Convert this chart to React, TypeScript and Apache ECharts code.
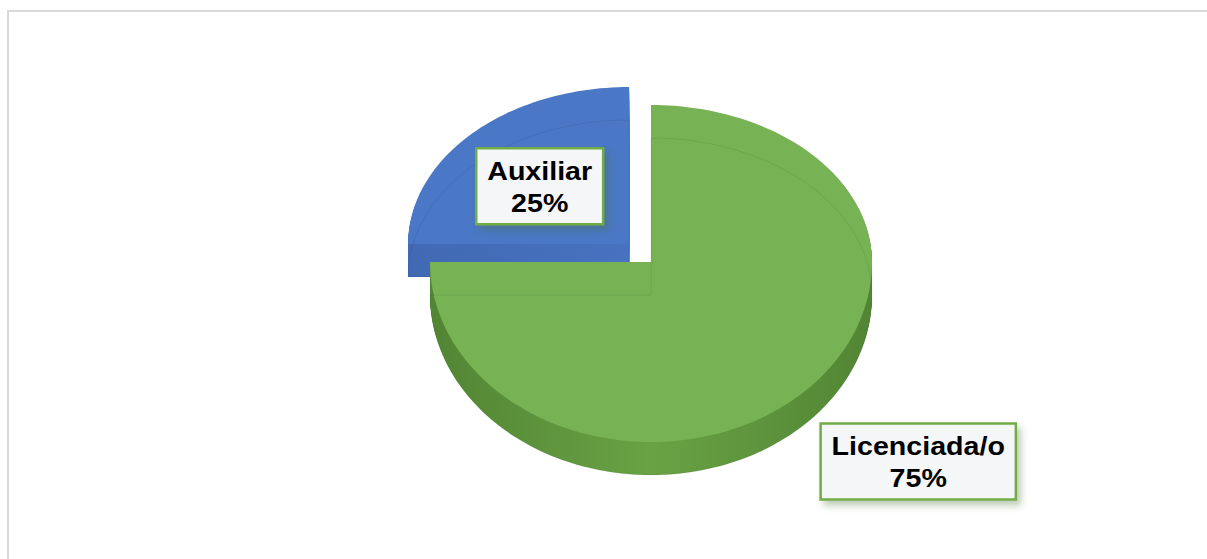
import React, { useEffect, useRef } from "react";
import * as echarts from "echarts";

// ---- data ----
const categories: string[] = ["Auxiliar", "Licenciada/o"];
const values: number[] = [25, 75];
const sliceColors: string[] = ["#4a78c6", "#77b254"];
const sideDark: string[] = ["#4169b3", "#4f8131"];
const sideMid: string[] = ["#4773c0", "#69a245"];

// ---- geometry / styling ----
const CX = 651;
const CY = 262;
const RX = 221;
const RY_TOP = 157;
const RY_BOT = 180;
const DEPTH = 33;
const START_ANGLE = 270; // degrees, clockwise from 12 o'clock
const EXPLODE = [31, 0];
const LABEL_FACTORS = [
  { fx: 0.572, fy: 0.52 },
  { fx: 1.71, fy: 1.567 },
];
const FONT_SIZE = 26;
const TEXT_SCALE_X = 1.1;
const FONT_FAMILY = '"Liberation Sans", Arial, sans-serif';

function pt(cx: number, cy: number, deg: number): [number, number] {
  const t = (deg * Math.PI) / 180;
  const s = Math.sin(t);
  const c = Math.cos(t);
  return [cx + RX * s, cy - (c > 0 ? RY_TOP : RY_BOT) * c];
}

function measure(text: string): number {
  const cv = document.createElement("canvas");
  const ctx = cv.getContext("2d");
  if (!ctx) return text.length * FONT_SIZE * 0.6;
  ctx.font = `bold ${FONT_SIZE}px ${FONT_FAMILY}`;
  return ctx.measureText(text).width;
}

export default function App() {
  const ref = useRef<HTMLDivElement>(null);
  useEffect(() => {
    if (!ref.current) return;
    const chart = echarts.init(ref.current, undefined, { renderer: "svg" });
    const total = values.reduce((a, b) => a + b, 0);

    const renderItem = (params: any, api: any) => {
      const i = params.dataIndex;
      const v = api.value(0) as number;
      let acc = 0;
      for (let j = 0; j < i; j++) acc += values[j];
      const a1 = START_ANGLE + (acc / total) * 360;
      const a2 = a1 + (v / total) * 360;
      const mid = (a1 + a2) / 2;
      const mr = (mid * Math.PI) / 180;
      const ex = EXPLODE[i] || 0;
      const cx = CX + Math.sin(mr) * ex;
      const cy = CY - Math.cos(mr) * ex * 0.82;

      const n = Math.max(12, Math.ceil((a2 - a1) / 1.5));
      const top: number[][] = [[cx, cy]];
      for (let k = 0; k <= n; k++) top.push(pt(cx, cy, a1 + ((a2 - a1) * k) / n));

      const children: any[] = [];
      const sideFill = new echarts.graphic.LinearGradient(
        CX - RX - 30,
        0,
        CX + RX + 30,
        0,
        [
          { offset: 0, color: sideDark[i] },
          { offset: 0.5, color: sideMid[i] },
          { offset: 1, color: sideDark[i] },
        ],
        true
      );
      for (let d = DEPTH; d >= 1; d -= 1) {
        children.push({
          type: "polygon",
          shape: { points: top.map((p) => [p[0], p[1] + d]) },
          style: { fill: sideFill, stroke: null },
          silent: true,
        });
      }
      // top face
      children.push({
        type: "polygon",
        shape: { points: top },
        style: { fill: sliceColors[i], stroke: null },
        silent: true,
      });
      // faint hidden edges (bottom outline)
      children.push({
        type: "polygon",
        shape: { points: top.map((p) => [p[0], p[1] + DEPTH]) },
        style: { fill: "none", stroke: "rgba(0,0,0,0.07)", lineWidth: 1 },
        silent: true,
      });

      // label
      const f = LABEL_FACTORS[i];
      const s = Math.sin(mr);
      const c = Math.cos(mr);
      const lx = cx + RX * s * f.fx;
      const ly = cy - (c > 0 ? RY_TOP : RY_BOT) * c * f.fy;
      const pct = Math.round((v / total) * 100) + "%";
      const name = categories[i];
      const w = Math.max(measure(name), measure(pct)) * TEXT_SCALE_X + 22;
      const h = 76;
      children.push({
        type: "rect",
        shape: { x: lx - w / 2, y: ly - h / 2, width: w, height: h },
        style: {
          fill: "#f5f6f7",
          stroke: "#70ad47",
          lineWidth: 2.5,
          shadowBlur: 7,
          shadowOffsetX: 4,
          shadowOffsetY: 5,
          shadowColor: "rgba(70,110,50,0.35)",
        },
        z2: 10,
        silent: true,
      });
      children.push({
        type: "text",
        x: lx,
        y: ly + 1,
        scaleX: TEXT_SCALE_X,
        style: {
          text: name + "\n" + pct,
          fontSize: FONT_SIZE,
          fontWeight: "bold",
          fontFamily: FONT_FAMILY,
          fill: "#000000",
          align: "center",
          verticalAlign: "middle",
          lineHeight: 32,
        },
        z2: 11,
        silent: true,
      });

      return { type: "group", children };
    };

    chart.setOption({
      animation: false,
      backgroundColor: "#ffffff",
      graphic: [
        {
          type: "rect",
          shape: { x: 8, y: 11, width: 1400, height: 800 },
          style: { fill: "none", stroke: "#d9d9d9", lineWidth: 2 },
          silent: true,
          z: -10,
        },
      ],
      series: [
        {
          type: "custom",
          coordinateSystem: "none",
          renderItem,
          data: values.map((v, i) => ({ name: categories[i], value: [v] })),
        },
      ],
    });
    return () => chart.dispose();
  }, []);
  return (
    <div
      ref={ref}
      style={{ position: "fixed", left: 0, top: 0, width: 1207, height: 559 }}
    />
  );
}
